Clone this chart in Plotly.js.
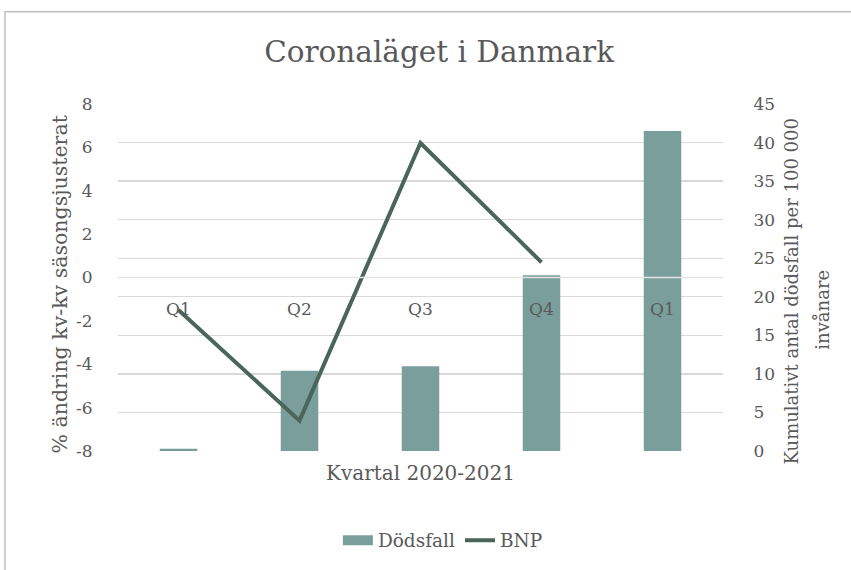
<!DOCTYPE html>
<html>
<head>
<meta charset="utf-8">
<script src="https://cdn.plot.ly/plotly-3.0.1.min.js"></script>
<style>html,body{margin:0;padding:0;background:#fff;}#chart{width:851px;height:570px;}</style>
</head>
<body>
<div id="chart"></div>
<script>
// Data
var quarterIndex = [0, 1, 2, 3, 4];
var quarterLabels = ["Q1", "Q2", "Q3", "Q4", "Q1"];
var dodsfall = [0.3, 10.4, 11.0, 22.8, 41.5];       // right axis: cumulative deaths per 100 000
var bnpIndex = [0, 1, 2, 3];
var bnp = [-1.5, -6.6, 6.2, 0.7];                   // left axis: % change q/q seasonally adjusted
var leftTicks = [-8, -6, -4, -2, 0, 2, 4, 6, 8];
var rightTicks = [0, 5, 10, 15, 20, 25, 30, 35, 40, 45];
var labelLevel = -1.45; // left-axis level where category labels sit
var leftTitle = "% ändring kv-kv säsongsjusterat";
var rightTitleLines = ["Kumulativt antal dödsfall per 100 000", "invånare"];

var FONT = "DejaVu Serif, Liberation Serif, serif";
var TXT = "#595959";
var BAR = "#7A9E9B";

var traces = [
  {
    type: "bar", name: "Dödsfall", x: quarterIndex, y: dodsfall,
    yaxis: "y", width: 0.31, showlegend: false,
    marker: {color: BAR, line: {width: 0}},
    hoverinfo: "skip"
  },
  { // legend-only entry giving the wide rectangular swatch of the reference
    type: "scatter", mode: "lines", name: "Dödsfall", x: [null], y: [null],
    yaxis: "y", line: {color: BAR, width: 14}, hoverinfo: "skip"
  },
  {
    type: "scatter", mode: "lines", name: "BNP", x: bnpIndex, y: bnp,
    yaxis: "y2",
    line: {color: "#4A6559", width: 4},
    hoverinfo: "skip"
  }
];

var annotations = quarterIndex.map(function (xi, i) {
  return {
    x: xi, y: labelLevel, xref: "x", yref: "y2", text: quarterLabels[i],
    showarrow: false, font: {family: FONT, size: 17, color: TXT},
    xanchor: "center", yanchor: "middle"
  };
});
// axis titles placed as rotated text
annotations.push({
  text: leftTitle, xref: "paper", yref: "paper", x: -0.0959, y: 0.4827,
  textangle: -90, showarrow: false, xanchor: "center", yanchor: "middle",
  font: {family: FONT, size: 20.5, color: TXT}
});
annotations.push({
  text: rightTitleLines[0], xref: "paper", yref: "paper", x: 1.114, y: 0.4597,
  textangle: -90, showarrow: false, xanchor: "center", yanchor: "middle",
  font: {family: FONT, size: 18, color: TXT}
});
annotations.push({
  text: rightTitleLines[1], xref: "paper", yref: "paper", x: 1.164, y: 0.408,
  textangle: -90, showarrow: false, xanchor: "center", yanchor: "middle",
  font: {family: FONT, size: 18, color: TXT}
});

var layout = {
  width: 851, height: 570,
  margin: {l: 118, r: 128, t: 104, b: 118},
  paper_bgcolor: "#ffffff", plot_bgcolor: "#ffffff",
  font: {family: FONT, color: TXT, size: 17},
  title: {
    text: "Coronaläget i Danmark",
    font: {family: FONT, size: 29.5, color: TXT},
    x: 0.516, xref: "container", xanchor: "center",
    y: 0.909, yref: "container", yanchor: "middle"
  },
  showlegend: true,
  legend: {
    orientation: "h", x: 0.537, xanchor: "center", y: -0.255, yanchor: "middle",
    font: {family: FONT, size: 18.5, color: TXT}, traceorder: "normal",
    itemwidth: 30, tracegroupgap: 0
  },
  xaxis: {
    range: [-0.5, 4.5], showticklabels: false, showgrid: false,
    zeroline: false, showline: false, ticks: "", fixedrange: true,
    title: {text: "Kvartal 2020-2021", font: {family: FONT, size: 20, color: TXT}, standoff: 14}
  },
  yaxis: {
    side: "right", range: [0, 45], tickvals: rightTicks, ticktext: rightTicks.map(String),
    showgrid: true, gridcolor: "#D9D9D9", gridwidth: 1.3, zeroline: false,
    showline: false, ticks: "outside", ticklen: 26, tickcolor: "rgba(0,0,0,0)",
    tickfont: {family: FONT, size: 17, color: TXT}
  },
  yaxis2: {
    side: "left", overlaying: "y", range: [-8, 8], tickvals: leftTicks, ticktext: leftTicks.map(String),
    showgrid: false, zeroline: false, showline: false,
    ticks: "outside", ticklen: 21, tickcolor: "rgba(0,0,0,0)",
    tickfont: {family: FONT, size: 17, color: TXT}
  },
  annotations: annotations,
  shapes: [
    {type: "line", xref: "paper", yref: "y2", x0: 0, x1: 1, y0: 0, y1: 0,
     line: {color: "#E4E4E4", width: 1.5}, layer: "above"},
    {type: "rect", xref: "paper", yref: "paper", x0: -0.1868, x1: 1.35, y0: -0.6, y1: 1.266,
     line: {color: "#BFBFBF", width: 1.5}, fillcolor: "rgba(0,0,0,0)", layer: "below"}
  ]
};

Plotly.newPlot("chart", traces, layout, {staticPlot: true, displayModeBar: false});
</script>
</body>
</html>
